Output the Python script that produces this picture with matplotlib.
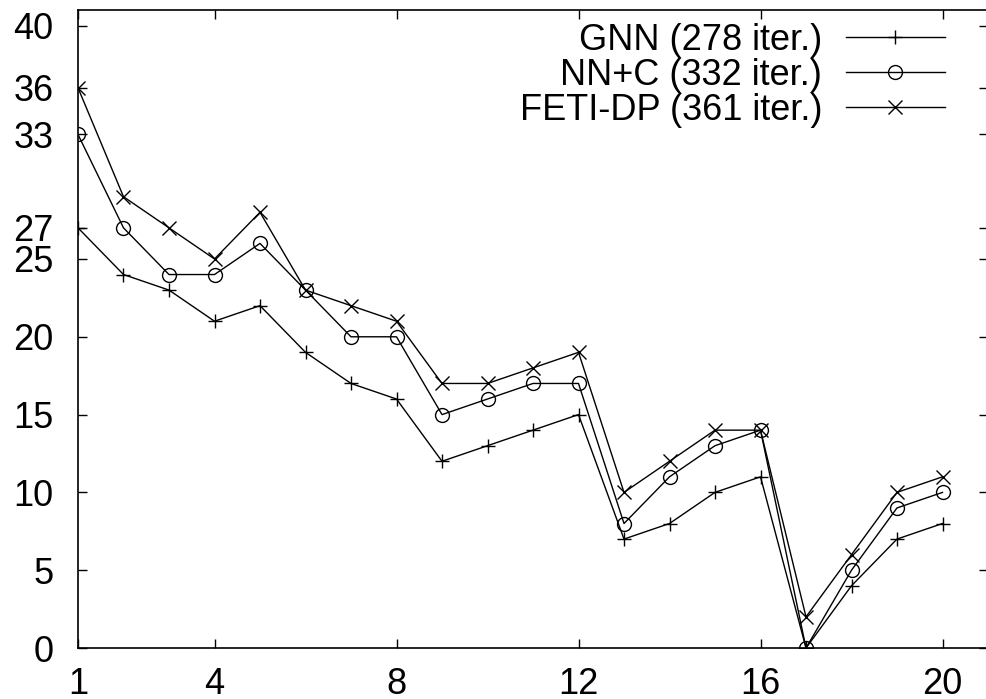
import matplotlib
matplotlib.use("Agg")
import matplotlib.pyplot as plt

x = list(range(1, 21))
gnn = [27, 24, 23, 21, 22, 19, 17, 16, 12, 13, 14, 15, 7, 8, 10, 11, 0, 4, 7, 8]
nnc = [33, 27, 24, 24, 26, 23, 20, 20, 15, 16, 17, 17, 8, 11, 13, 14, 0, 5, 9, 10]
feti = [36, 29, 27, 25, 28, 23, 22, 21, 17, 17, 18, 19, 10, 12, 14, 14, 2, 6, 10, 11]
labels = ["GNN (278 iter.)", "NN+C (332 iter.)", "FETI-DP (361 iter.)"]
xticks = [1, 4, 8, 12, 16, 20]
yticks = [0, 5, 10, 15, 20, 25, 27, 33, 36, 40]

plt.rcParams['font.family'] = ['Liberation Sans', 'DejaVu Sans']

fig = plt.figure(figsize=(9.87, 6.99), dpi=100)
W, H = 987, 699
left, right, top, bottom = 78, 988, 10, 648
ax = fig.add_axes([left / W, (H - bottom) / H, (right - left) / W, (bottom - top) / H])

lw = 1.0
ms = 10
ax.plot(x, gnn, color='black', lw=lw, marker='+', ms=ms, mew=1.0, label=labels[0])
ax.plot(x, nnc, color='black', lw=lw, marker='o', ms=ms, mew=1.0, mfc='none', label=labels[1])
ax.plot(x, feti, color='black', lw=lw, marker='x', ms=ms, mew=1.0, label=labels[2])

ax.set_xlim(1, 21)
ax.set_ylim(0, 41)
ax.set_xticks(xticks)
ax.set_yticks(yticks)
ax.tick_params(direction='in', length=6.5, width=1.0, top=True, right=True,
               labelsize=26, pad=14)
ax.tick_params(axis='y', pad=17.5)
for s in ax.spines.values():
    s.set_linewidth(1.2)

leg = ax.legend(loc='upper right', bbox_to_anchor=(945 / W, 1 - 23 / H), bbox_transform=fig.transFigure,
                frameon=False, markerfirst=False, fontsize=26, handlelength=2.75,
                handletextpad=0.65, labelspacing=0.0, borderaxespad=0, borderpad=0)
for t in leg.get_texts():
    t.set_ha('right')
leg._legend_box.align = 'right'

fig.savefig('out.png', dpi=100)
